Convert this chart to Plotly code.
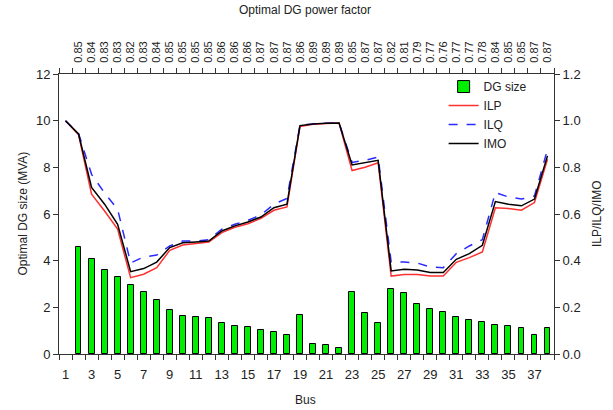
import plotly.graph_objects as go

bus = list(range(1, 39))
bar_bus = list(range(2, 39))
dg_size = [4.59, 4.07, 3.59, 3.30, 2.97, 2.64, 2.31, 1.87, 1.64, 1.60, 1.54, 1.33, 1.21, 1.16,
           1.04, 0.94, 0.81, 1.66, 0.41, 0.37, 0.26, 2.64, 1.76, 1.32, 2.80, 2.63, 2.14, 1.91,
           1.81, 1.59, 1.47, 1.38, 1.26, 1.20, 1.10, 0.81, 1.10]
ilp = [1.0, 0.94, 0.685, 0.613, 0.535, 0.327, 0.342, 0.37, 0.444, 0.467, 0.474, 0.48, 0.52,
       0.543, 0.558, 0.581, 0.616, 0.63, 0.975, 0.985, 0.988, 0.99, 0.786, 0.80, 0.82, 0.334,
       0.341, 0.341, 0.334, 0.334, 0.393, 0.413, 0.437, 0.627, 0.624, 0.616, 0.649, 0.835]
ilq = [1.0, 0.945, 0.77, 0.69, 0.62, 0.39, 0.416, 0.424, 0.463, 0.484, 0.484, 0.49, 0.535,
       0.556, 0.573, 0.596, 0.642, 0.667, 0.982, 0.987, 0.989, 0.99, 0.821, 0.83, 0.844, 0.394,
       0.394, 0.39, 0.373, 0.37, 0.43, 0.463, 0.49, 0.692, 0.673, 0.664, 0.677, 0.877]
imo = [1.0, 0.943, 0.714, 0.642, 0.556, 0.353, 0.366, 0.394, 0.456, 0.477, 0.48, 0.484, 0.527,
       0.549, 0.566, 0.587, 0.627, 0.642, 0.979, 0.986, 0.989, 0.99, 0.81, 0.82, 0.83, 0.356,
       0.363, 0.36, 0.349, 0.349, 0.406, 0.43, 0.466, 0.653, 0.642, 0.635, 0.664, 0.849]
power_factor = ["0.85", "0.84", "0.83", "0.83", "0.82", "0.83", "0.84", "0.85", "0.85", "0.85",
                "0.85", "0.86", "0.86", "0.86", "0.87", "0.87", "0.87", "0.86", "0.89", "0.89",
                "0.89", "0.85", "0.87", "0.87", "0.82", "0.81", "0.79", "0.77", "0.76", "0.77",
                "0.77", "0.78", "0.84", "0.85", "0.85", "0.87", "0.87"]
bottom_ticks = list(range(1, 38, 2))
half_ticks = [b - 0.5 for b in range(1, 40)]

FONT = "Liberation Sans, Arial, sans-serif"
TXT = "#222222"

fig = go.Figure()
fig.add_trace(go.Bar(x=bar_bus, y=dg_size, name="DG size", width=0.45,
                     marker=dict(color="#00ee00", line=dict(color="black", width=1))))
fig.add_trace(go.Scatter(x=bus, y=ilp, name="ILP", mode="lines", yaxis="y2",
                         line=dict(color="#ff3030", width=1.5)))
fig.add_trace(go.Scatter(x=bus, y=ilq, name="ILQ", mode="lines", yaxis="y2",
                         line=dict(color="#2a2aff", width=1.5, dash="dash")))
fig.add_trace(go.Scatter(x=bus, y=imo, name="IMO", mode="lines", yaxis="y2",
                         line=dict(color="black", width=1.5)))
# invisible trace to hold the top axis
fig.add_trace(go.Scatter(x=bar_bus, y=dg_size, xaxis="x2", mode="markers",
                         marker=dict(opacity=0), showlegend=False, hoverinfo="skip"))

axis_common = dict(showline=True, linecolor="#333333", linewidth=1, showgrid=False,
                   zeroline=False, tickfont=dict(family=FONT, size=13, color=TXT))

fig.update_layout(
    width=613, height=410,
    margin=dict(l=58.5, r=59.2, t=74, b=56),
    paper_bgcolor="white", plot_bgcolor="white",
    bargap=0,
    xaxis=dict(range=[0.5, 38.5], tickmode="array", tickvals=bottom_ticks,
               ticks="", ticklabelstandoff=8,
               minor=dict(tickmode="array", tickvals=half_ticks, ticks="outside",
                          ticklen=5, tickcolor="#333333"),
               **axis_common),
    xaxis2=dict(range=[0.5, 38.5], overlaying="x", side="top", anchor="y",
                tickmode="array", tickvals=bar_bus, ticktext=power_factor,
                tickangle=-90, ticks="", ticklabelstandoff=8,
                minor=dict(tickmode="array", tickvals=half_ticks, ticks="outside",
                           ticklen=5, tickcolor="#333333"),
                showline=True, linecolor="#333333", linewidth=1, showgrid=False,
                zeroline=False, tickfont=dict(family=FONT, size=11, color=TXT)),
    yaxis=dict(range=[0, 12], tickvals=[0, 2, 4, 6, 8, 10, 12], ticks="outside",
               ticklen=5, tickcolor="#333333", **axis_common),
    yaxis2=dict(range=[0, 1.2], overlaying="y", side="right",
                tickvals=[0, 0.2, 0.4, 0.6, 0.8, 1.0, 1.2], tickformat=".1f",
                ticks="outside", ticklen=5, tickcolor="#333333", **axis_common),
    legend=dict(x=0.777, y=1.007, xanchor="left", yanchor="top",
                bgcolor="rgba(0,0,0,0)", font=dict(family=FONT, size=12, color=TXT),
                tracegroupgap=0, itemwidth=30),
    font=dict(family=FONT, color=TXT),
    annotations=[
        dict(text="Optimal DG power factor", xref="paper", yref="paper", x=0.497, y=1.2286,
             showarrow=False, xanchor="center", yanchor="middle",
             font=dict(family=FONT, size=12, color=TXT)),
        dict(text="Bus", xref="paper", yref="paper", x=0.497, y=-0.164,
             showarrow=False, xanchor="center", yanchor="middle",
             font=dict(family=FONT, size=12, color=TXT)),
        dict(text="Optimal DG size (MVA)", xref="paper", yref="paper", x=-0.0737, y=0.5,
             showarrow=False, textangle=-90, xanchor="center", yanchor="middle",
             font=dict(family=FONT, size=12, color=TXT)),
        dict(text="ILP/ILQ/IMO", xref="paper", yref="paper", x=1.087, y=0.5,
             showarrow=False, textangle=-90, xanchor="center", yanchor="middle",
             font=dict(family=FONT, size=12, color=TXT)),
    ],
)

fig.write_html("out.html", config={"displayModeBar": False},
               post_script="document.body.style.margin='0';")
